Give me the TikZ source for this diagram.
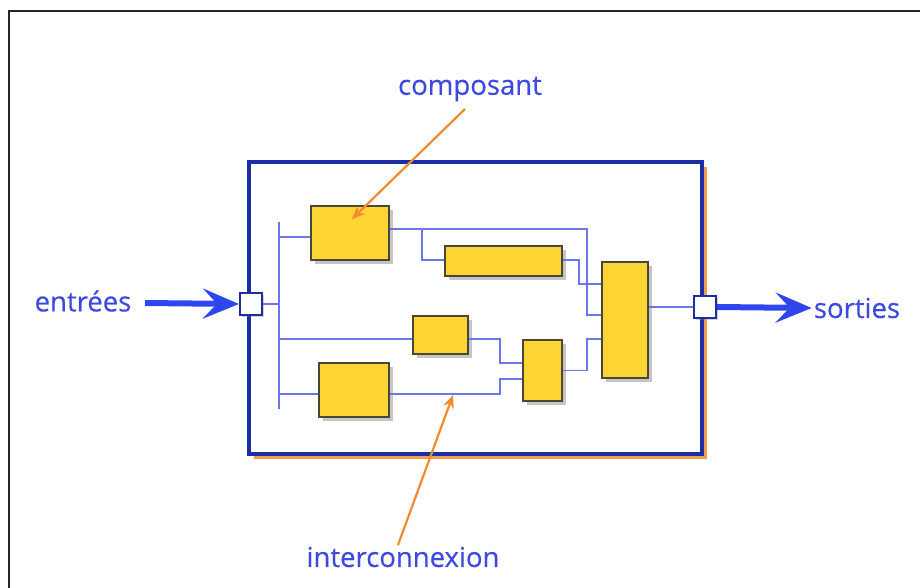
\documentclass[tikz,border=0pt]{standalone}
\usepackage{fontspec}
\setmainfont{Open Sans}
\newfontfamily\lblfont{Open Sans}[FakeBold=0.4]
\usetikzlibrary{arrows.meta,shadows}

\definecolor{txtblue}{HTML}{3D4AE2}
\definecolor{sysblue}{HTML}{1C2DA8}
\definecolor{wireblue}{HTML}{6C76EC}
\definecolor{compyellow}{HTML}{FCD433}
\definecolor{compborder}{HTML}{4A4638}
\definecolor{flowblue}{HTML}{2F46EE}
\definecolor{callorange}{HTML}{F28A2E}

\tikzset{
    comp/.style={draw=compborder, line width=1.6pt, fill=compyellow,
        inner sep=0pt, drop shadow={shadow xshift=3.5pt, shadow yshift=-3.5pt, opacity=.45}},
    port/.style={draw=sysblue, line width=2pt, fill=white, inner sep=0pt,
        minimum size=22pt, drop shadow={shadow xshift=2pt, shadow yshift=-2pt, opacity=.35}},
    wire/.style={draw=wireblue, line width=1.5pt},
    flowhead/.tip={Stealth[length=36pt,width=30pt,inset=14pt]},
    flow/.style={draw=flowblue, line width=6pt, arrows={-flowhead}},
    callout/.style={draw=callorange, line width=2.2pt, arrows={-Stealth[length=13pt,width=11pt]}},
    lbl/.style={text=txtblue, font=\lblfont\fontsize{27.5}{30}\selectfont, inner sep=2pt}
}

\begin{document}
\begin{tikzpicture}[x=1pt,y=-1pt]

\useasboundingbox (0,0) rectangle (920,588);

% outer frame
\draw[line width=2.2pt, black!85] (9,590) -- (9,11) -- (922,11);

% system box
\node[draw=sysblue, line width=4.6pt, fill=white, minimum width=453pt, minimum height=292pt,
    drop shadow={shadow xshift=5pt, shadow yshift=-5pt, fill=callorange!85, opacity=1}]
    (sys) at (475.5,308) {};

% ports
\node[port] (pin) at (251,304) {};
\node[port] (pout) at (705,307) {};

% components
\node[comp, minimum width=78pt, minimum height=54pt] (cA) at (350,233) {};
\node[comp, minimum width=117pt, minimum height=30pt] (cB) at (503.5,261) {};
\node[comp, minimum width=55pt, minimum height=38pt] (cC) at (440.5,335) {};
\node[comp, minimum width=39pt, minimum height=61pt] (cD) at (542.5,370.5) {};
\node[comp, minimum width=46pt, minimum height=116pt] (cE) at (625,320) {};
\node[comp, minimum width=70pt, minimum height=54pt] (cF) at (354,390) {};

% bus
\coordinate (busT) at (279,222);
\coordinate (busB) at (279,409);
\draw[wire] (busT) -- (busB);
\draw[wire] (pin.east) -- (pin.east -| busT);

% interconnections
\draw[wire] ([yshift=-4pt]cA.west -| busT) -- ([yshift=-4pt]cA.west);
\draw[wire] ([yshift=-4pt]cC.west -| busT) -- ([yshift=-4pt]cC.west);
\draw[wire] ([yshift=-4pt]cF.west -| busT) -- ([yshift=-4pt]cF.west);

\draw[wire] ([yshift=4pt]cA.east) -- ++(197,0) |- ([yshift=5pt]cE.west);
\draw[wire] ([yshift=4pt]cA.east) ++(32,0) |- ([yshift=1pt]cB.west);
\draw[wire] ([yshift=1pt]cB.east) -- ++(16,0) |- ([yshift=36pt]cE.west);
\draw[wire] ([yshift=-4pt]cC.east) -- ++(31,0) |- ([yshift=7.5pt]cD.west);
\draw[wire] ([yshift=-4pt]cF.east) -- ++(110,0) |- ([yshift=-8.5pt]cD.west);
\draw[wire] (cD.east) -- ++(24,0) |- ([yshift=-19pt]cE.west);
\draw[wire] (cE.east |- pout) -- (pout.west);

% labels
\node[lbl] (tin) at (83,301) {entrées};
\node[lbl] (tout) at (857,308) {sorties};
\node[lbl] (tcomp) at (470,89) {composant};
\node[lbl] (tint) at (403,557) {interconnexion};

% flows
\draw[flow] (145,303) -- (pin.west);
\draw[flow] (pout.east) -- (tout.west);

% callouts
\coordinate (pA) at (352,219);
\coordinate (pW) at (453,395);
\draw[callout] (465,109) -- (pA);
\draw[callout] (398,545) -- (pW);

\end{tikzpicture}
\end{document}
